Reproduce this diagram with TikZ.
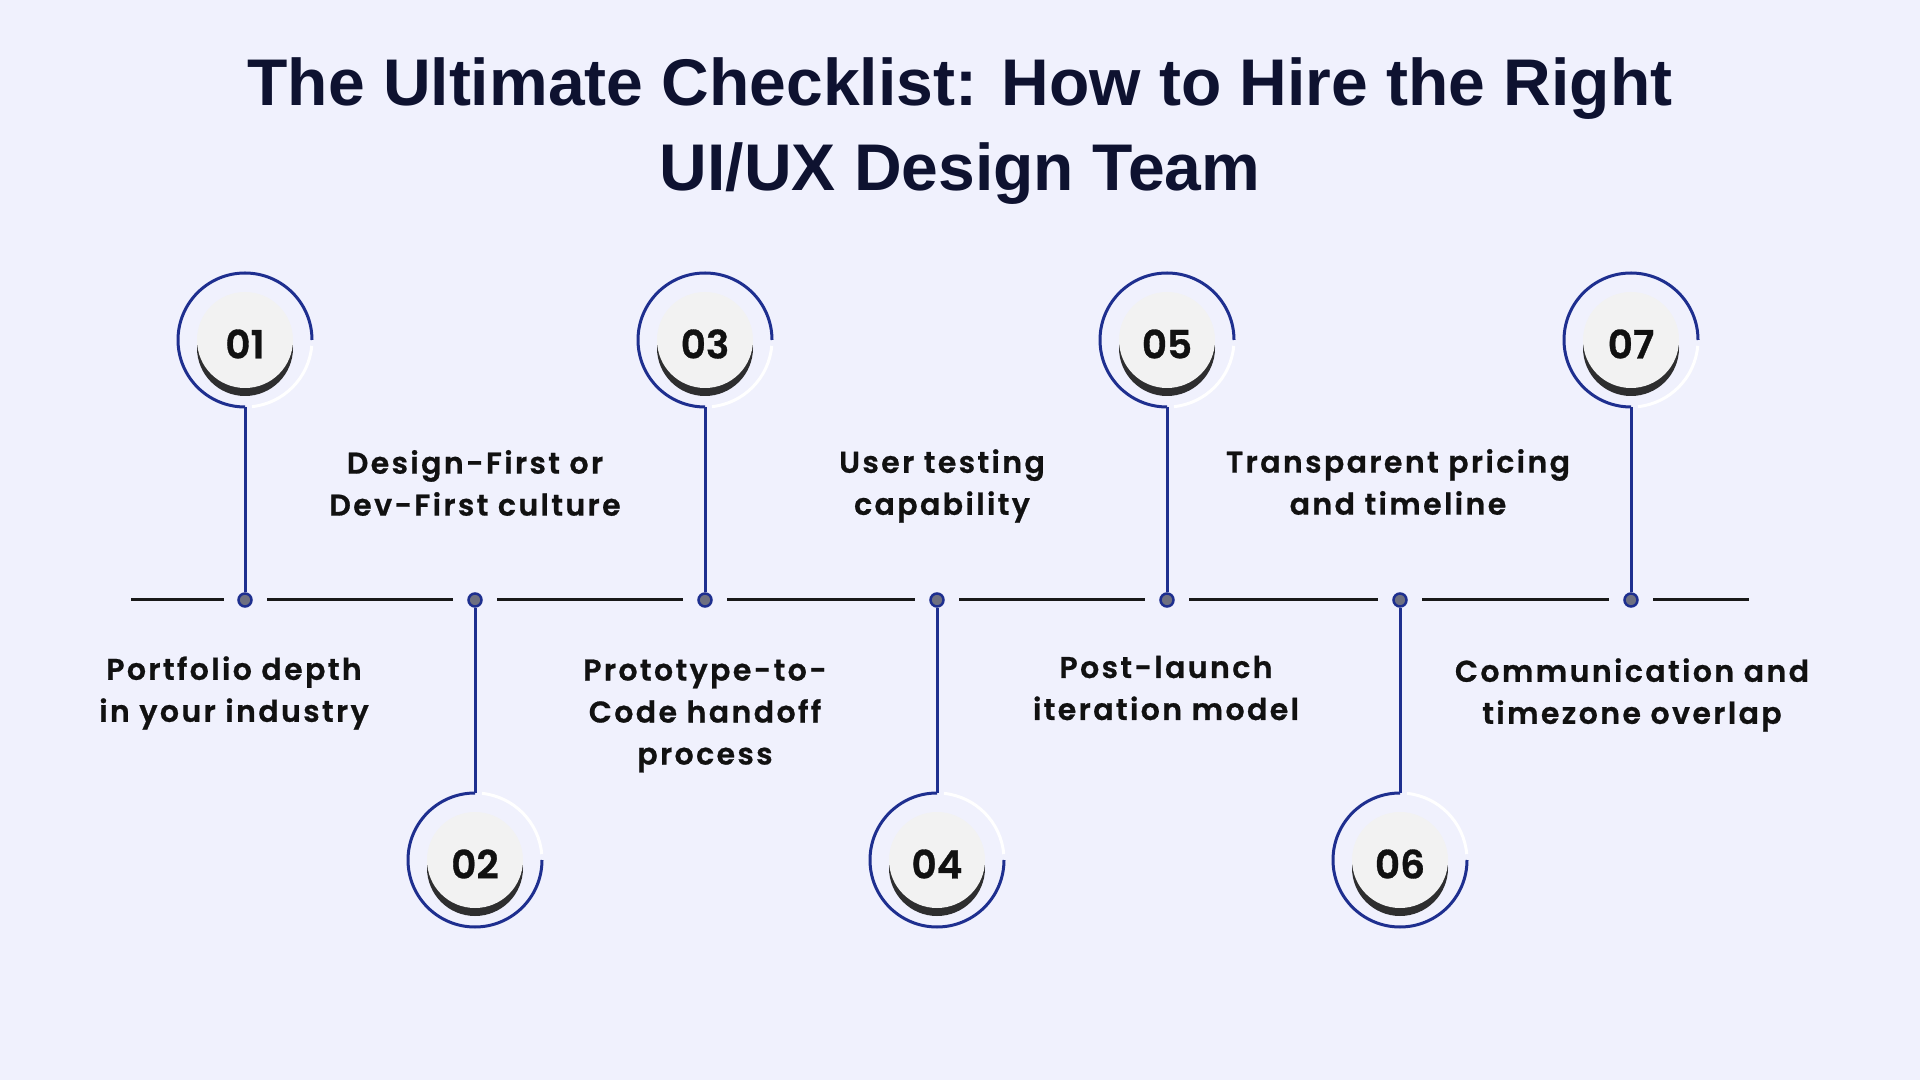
\documentclass[tikz,border=0pt]{standalone}
\usepackage{fontspec}
\setmainfont{Poppins}
\newfontfamily\ttlfont{Liberation Sans}
\newfontfamily\bodyfont{Poppins SemiBold}[LetterSpace=8, FakeBold=0.8]
\newfontfamily\numfont{Poppins SemiBold}[FakeBold=0.8]
\usepackage{tikz}
\usetikzlibrary{calc, shadows}
\definecolor{bgc}{HTML}{F0F1FD}
\definecolor{navy}{HTML}{1E2F8F}
\definecolor{ink}{HTML}{0E1230}
\definecolor{txt}{HTML}{111111}
\definecolor{discc}{HTML}{F2F2F2}
\definecolor{dotc}{HTML}{6E7080}
\tikzset{
    ring/.style={circle, minimum size=134pt, inner sep=0pt, outer sep=0pt},
    disc/.style={circle, fill=discc, minimum size=96pt, inner sep=0pt,
        drop shadow={shadow xshift=0pt, shadow yshift=-8pt, fill=black!90, opacity=0.9}},
    num/.style={text=txt, font=\numfont\fontsize{39}{39}\selectfont, inner sep=0pt},
    dot/.style={circle, draw=navy, line width=2.5pt, fill=dotc, inner sep=0pt, minimum size=13pt},
    tl/.style={line width=3pt, black!90},
    arcb/.style={navy, line width=3pt},
    arcw/.style={white, line width=3pt},
    stem/.style={navy, line width=3pt},
    lbl/.style={align=center, text=txt, font=\bodyfont\fontsize{30}{42}\selectfont},
    ttl/.style={align=center, text=ink, font=\ttlfont\bfseries\fontsize{66}{85}\selectfont}
}

\begin{document}
\begin{tikzpicture}[x=1pt, y=1pt]
    \path[fill=bgc, use as bounding box] (0,0) rectangle (1920,1080);

    \node[ttl] (title) at (960,949) {The Ultimate Checklist: How to Hire the Right\\UI/UX Design Team};

    % timeline dots
    \node[dot] (d1) at (245,480) {};
    \node[dot] (d2) at (475,480) {};
    \node[dot] (d3) at (705,480) {};
    \node[dot] (d4) at (937,480) {};
    \node[dot] (d5) at (1167,480) {};
    \node[dot] (d6) at (1400,480) {};
    \node[dot] (d7) at (1631,480) {};
    \coordinate (tl0) at (131,480);
    \coordinate (tl8) at (1749,480);

    \draw[tl] (tl0) -- ($(d1)+(-21,0)$);
    \draw[tl] ($(d1)+(22,0)$) -- ($(d2)+(-22,0)$);
    \draw[tl] ($(d2)+(22,0)$) -- ($(d3)+(-22,0)$);
    \draw[tl] ($(d3)+(22,0)$) -- ($(d4)+(-22,0)$);
    \draw[tl] ($(d4)+(22,0)$) -- ($(d5)+(-22,0)$);
    \draw[tl] ($(d5)+(22,0)$) -- ($(d6)+(-22,0)$);
    \draw[tl] ($(d6)+(22,0)$) -- ($(d7)+(-22,0)$);
    \draw[tl] ($(d7)+(22,0)$) -- (tl8);

    % rings above the line
    \node[ring] (r1) at (245,740) {};
    \node[ring] (r3) at (705,740) {};
    \node[ring] (r5) at (1167,740) {};
    \node[ring] (r7) at (1631,740) {};
    % rings below the line
    \node[ring] (r2) at (475,220) {};
    \node[ring] (r4) at (937,220) {};
    \node[ring] (r6) at (1400,220) {};

    \draw[arcb] (r1.east) arc[start angle=0, end angle=270, radius=67];
    \draw[arcb] (r3.east) arc[start angle=0, end angle=270, radius=67];
    \draw[arcb] (r5.east) arc[start angle=0, end angle=270, radius=67];
    \draw[arcb] (r7.east) arc[start angle=0, end angle=270, radius=67];
    \draw[arcw] (r1.-84) arc[start angle=-84, end angle=-5, radius=67];
    \draw[arcw] (r3.-84) arc[start angle=-84, end angle=-5, radius=67];
    \draw[arcw] (r5.-84) arc[start angle=-84, end angle=-5, radius=67];
    \draw[arcw] (r7.-84) arc[start angle=-84, end angle=-5, radius=67];

    \draw[arcb] (r2.north) arc[start angle=90, end angle=360, radius=67];
    \draw[arcb] (r4.north) arc[start angle=90, end angle=360, radius=67];
    \draw[arcb] (r6.north) arc[start angle=90, end angle=360, radius=67];
    \draw[arcw] (r2.5) arc[start angle=5, end angle=84, radius=67];
    \draw[arcw] (r4.5) arc[start angle=5, end angle=84, radius=67];
    \draw[arcw] (r6.5) arc[start angle=5, end angle=84, radius=67];

    % stems
    \draw[stem] (r1.south) -- (d1.north);
    \draw[stem] (r3.south) -- (d3.north);
    \draw[stem] (r5.south) -- (d5.north);
    \draw[stem] (r7.south) -- (d7.north);
    \draw[stem] (r2.north) -- (d2.south);
    \draw[stem] (r4.north) -- (d4.south);
    \draw[stem] (r6.north) -- (d6.south);

    % numbered discs
    \node[disc] (c1) at (r1) {};
    \node[disc] (c2) at (r2) {};
    \node[disc] (c3) at (r3) {};
    \node[disc] (c4) at (r4) {};
    \node[disc] (c5) at (r5) {};
    \node[disc] (c6) at (r6) {};
    \node[disc] (c7) at (r7) {};
    \node[num] at ($(c1)+(0,-4)$) {01};
    \node[num] at ($(c2)+(0,-4)$) {02};
    \node[num] at ($(c3)+(0,-4)$) {03};
    \node[num] at ($(c4)+(0,-4)$) {04};
    \node[num] at ($(c5)+(0,-4)$) {05};
    \node[num] at ($(c6)+(0,-4)$) {06};
    \node[num] at ($(c7)+(0,-4)$) {07};

    % labels
    \node[lbl] (t1) at (234,387) {Portfolio depth\\in your industry};
    \node[lbl] (t2) at (475,597) {Design-First or\\Dev-First culture};
    \node[lbl] (t3) at (705,364) {Prototype-to-\\Code handoff\\process};
    \node[lbl] (t4) at (942,594) {User testing\\capability};
    \node[lbl] (t5) at (1166,392) {Post-launch\\iteration model};
    \node[lbl] (t6) at (1398,598) {Transparent pricing\\and timeline};
    \node[lbl] (t7) at (1632,385) {Communication and\\timezone overlap};
\end{tikzpicture}
\end{document}
